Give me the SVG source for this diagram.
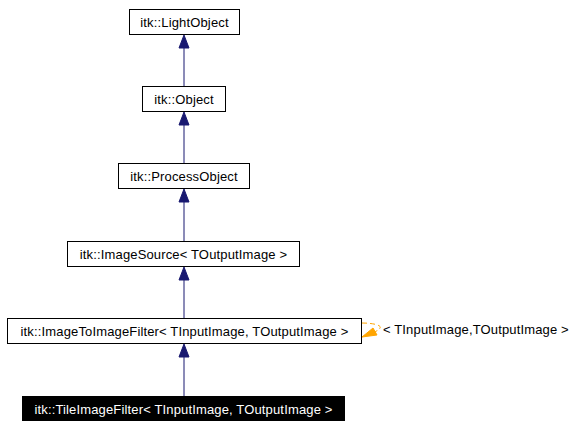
<svg xmlns="http://www.w3.org/2000/svg" width="580" height="428" viewBox="0 0 580 428">
<style>
.box{fill:#fff;stroke:#000;stroke-width:1}
.t{font-family:"Liberation Sans",Arial,sans-serif;font-size:13px;letter-spacing:0.15px;fill:#000;text-anchor:middle}
.edge{stroke:#191970;stroke-width:1;fill:none}
.head{fill:#191970;stroke:#191970}
.tmpl{stroke:#ffa500;stroke-width:1;fill:none;stroke-dasharray:5,3}
</style>
<rect width="580" height="428" fill="#fff"/>
<g id="connectors">
<line class="edge" x1="184" y1="48" x2="184" y2="86.5"/>
<polygon class="head" points="184,35 179,48 189,48"/>
<line class="edge" x1="184" y1="125" x2="184" y2="163.5"/>
<polygon class="head" points="184,112 179,125 189,125"/>
<line class="edge" x1="184" y1="202" x2="184" y2="241.5"/>
<polygon class="head" points="184,189 179,202 189,202"/>
<line class="edge" x1="184" y1="280" x2="184" y2="318.5"/>
<polygon class="head" points="184,267 179,280 189,280"/>
<line class="edge" x1="184" y1="357" x2="184" y2="396"/>
<polygon class="head" points="184,344 179,357 189,357"/>
<path class="tmpl" d="M362,323 C372,323 382,325 380,328 C379,330 377,331 374,332"/>
<polygon fill="#ffa500" stroke="#ffa500" points="362,337 373,328 377,335"/>
<text class="t" x="383" y="334" style="text-anchor:start">&lt; TInputImage,TOutputImage &gt;</text>
</g>
<g id="LightObject">
<rect class="box" x="129.5" y="9.5" width="110" height="25"/>
<text class="t" x="184.5" y="27">itk::LightObject</text>
</g>
<g id="Object">
<rect class="box" x="142.5" y="86.5" width="83" height="25"/>
<text class="t" x="184" y="104">itk::Object</text>
</g>
<g id="ProcessObject">
<rect class="box" x="118.5" y="163.5" width="131" height="25"/>
<text class="t" x="184" y="181">itk::ProcessObject</text>
</g>
<g id="ImageSource">
<rect class="box" x="67.5" y="241.5" width="232" height="25"/>
<text class="t" x="183.5" y="259">itk::ImageSource&lt; TOutputImage &gt;</text>
</g>
<g id="ImageToImageFilter">
<rect class="box" x="7.5" y="318.5" width="354" height="25"/>
<text class="t" x="184.5" y="336">itk::ImageToImageFilter&lt; TInputImage, TOutputImage &gt;</text>
</g>
<g id="TileImageFilter">
<rect x="22.5" y="396.5" width="322" height="24" fill="#000" stroke="#000"/>
<text class="t" x="183.5" y="414" style="fill:#fff">itk::TileImageFilter&lt; TInputImage, TOutputImage &gt;</text>
</g>
</svg>
